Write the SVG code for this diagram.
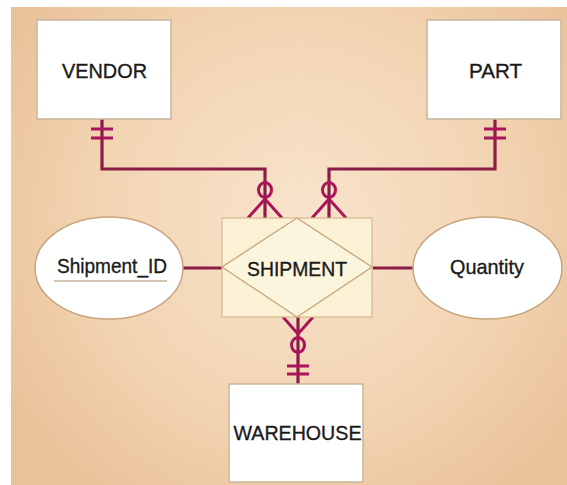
<svg xmlns="http://www.w3.org/2000/svg" width="567" height="485" viewBox="0 0 567 485">
  <defs>
    <radialGradient id="bg" cx="300" cy="220" r="340" gradientUnits="userSpaceOnUse">
      <stop offset="0" stop-color="#f8e4cc"/>
      <stop offset="0.6" stop-color="#f2d4b2"/>
      <stop offset="1" stop-color="#eac29a"/>
    </radialGradient>
  </defs>
  <style>
    .entity { fill: #ffffff; stroke: #c9b59c; stroke-width: 1.5; }
    .attr { fill: #ffffff; stroke: #c8a57e; stroke-width: 1.5; }
    .assoc { fill: #fbf1d4; stroke: #d8b78e; stroke-width: 1.2; }
    .diamond { fill: #fcf5de; stroke: #c9a47a; stroke-width: 1.3; }
    .label { font-family: "Liberation Sans", Arial, sans-serif; font-size: 21px; fill: #1a1a1a; stroke: #1a1a1a; stroke-width: 0.35; text-anchor: middle; dominant-baseline: central; }
    .link { fill: none; stroke: #8a1c47; stroke-width: 3.2; stroke-linejoin: miter; }
    .mark { fill: none; stroke: #a8155a; stroke-width: 3; }
  </style>

  <rect x="11" y="7" width="556" height="478" fill="url(#bg)"/>

  <g id="connectors">
    <!-- VENDOR to SHIPMENT -->
    <path class="link" d="M102 119 V169 H265 V218"/>
    <path class="mark" d="M91 129 H113 M91 138 H113"/>
    <ellipse class="mark" cx="265" cy="190" rx="6.5" ry="7.5"/>
    <path class="mark" d="M248 218 L265 199 L282 218"/>
    <!-- PART to SHIPMENT -->
    <path class="link" d="M495 119 V169 H329 V218"/>
    <path class="mark" d="M484 129 H506 M484 138 H506"/>
    <ellipse class="mark" cx="329" cy="190" rx="6.5" ry="7.5"/>
    <path class="mark" d="M312 218 L329 199 L346 218"/>
    <!-- WAREHOUSE to SHIPMENT -->
    <path class="link" d="M298 317 V384"/>
    <path class="mark" d="M283 317 L298 334 L313 317"/>
    <ellipse class="mark" cx="298" cy="345" rx="6.5" ry="7.5"/>
    <path class="mark" d="M287 366 H309 M287 374 H309"/>
    <!-- attributes -->
    <path class="link" d="M183 268 H222"/>
    <path class="link" d="M373 268 H413"/>
  </g>

  <g id="vendor">
    <rect class="entity" x="37" y="20" width="134" height="99"/>
    <text class="label" x="104.5" y="70" textLength="85" lengthAdjust="spacingAndGlyphs">VENDOR</text>
  </g>

  <g id="part">
    <rect class="entity" x="427" y="20" width="134" height="99"/>
    <text class="label" x="495.5" y="70" textLength="53" lengthAdjust="spacingAndGlyphs">PART</text>
  </g>

  <g id="shipment">
    <rect class="assoc" x="222" y="218" width="150" height="99"/>
    <polygon class="diamond" points="297,218 372,267 297,317 222,267"/>
    <text class="label" x="297" y="268" textLength="100" lengthAdjust="spacingAndGlyphs">SHIPMENT</text>
  </g>

  <g id="shipment_id">
    <ellipse class="attr" cx="109" cy="268" rx="74" ry="51"/>
    <text class="label" x="112" y="265" textLength="110" lengthAdjust="spacingAndGlyphs">Shipment_ID</text>
    <line x1="54" y1="281" x2="167" y2="281" stroke="#a88a6a" stroke-width="1.2"/>
  </g>

  <g id="quantity">
    <ellipse class="attr" cx="487.5" cy="268" rx="74.5" ry="51"/>
    <text class="label" x="487" y="266" textLength="74" lengthAdjust="spacingAndGlyphs">Quantity</text>
  </g>

  <g id="warehouse">
    <rect class="entity" x="229" y="384" width="134" height="98"/>
    <text class="label" x="297.5" y="432" textLength="128" lengthAdjust="spacingAndGlyphs">WAREHOUSE</text>
  </g>
</svg>
